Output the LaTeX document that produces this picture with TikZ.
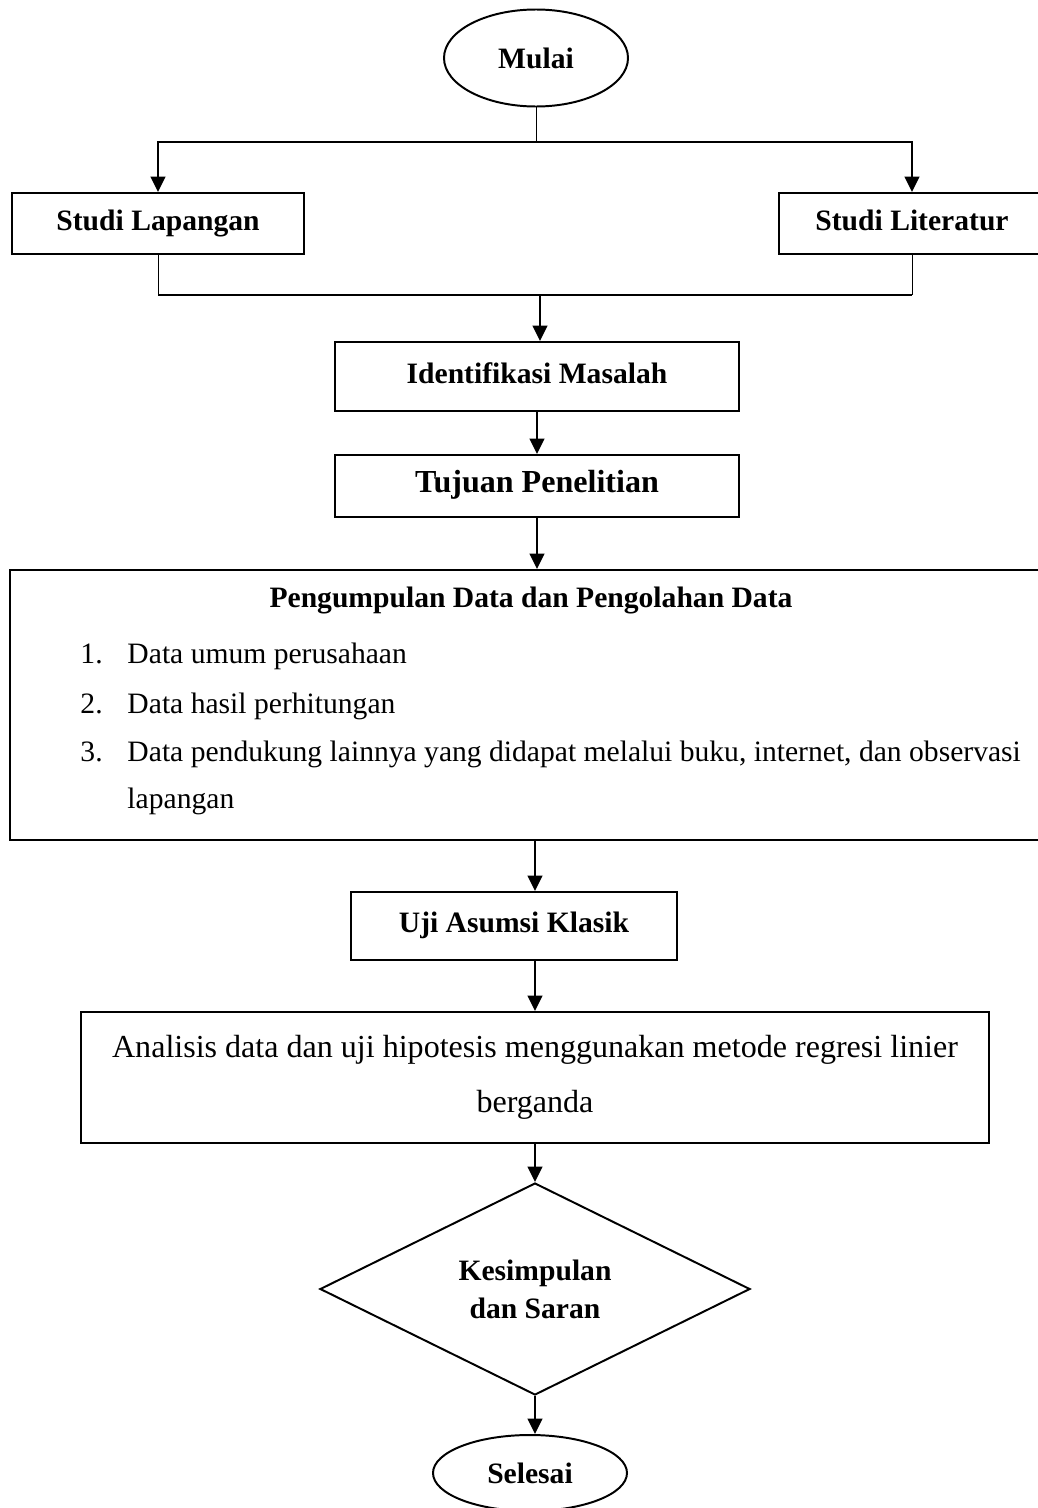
\documentclass[tikz,border=0pt]{standalone}
\usepackage{fontspec}
\setmainfont{Liberation Serif}
\usetikzlibrary{shapes.geometric, arrows.meta}
\newcommand{\pxu}{0.01425cm}

\begin{document}
\begin{tikzpicture}[x=\pxu, y=-\pxu,
    font=\fontsize{12}{14}\selectfont,
    tebal/.style={font=\fontsize{12}{14}\selectfont\bfseries},
    kotak/.style={draw, line width=0.8pt, inner sep=0pt},
    satu/.style={text height=1.6ex, text depth=0.4ex},
    oval/.style={draw, ellipse, line width=0.8pt, inner sep=0pt, tebal},
    arr/.style={line width=0.8pt, -{Triangle[length=2.2mm, width=2.1mm]}},
    garis/.style={line width=0.8pt},
    tipis/.style={line width=0.4pt}]
    \useasboundingbox (0,0) rectangle (1037,1508);

    % mulai dan studi
    \node[oval, minimum width=184*\pxu, minimum height=97*\pxu] (mulai) at (536,58) {Mulai};
    \node[kotak, tebal, satu, minimum width=292*\pxu, minimum height=61*\pxu] (lap) at (158,223.5) {Studi Lapangan};
    \node[kotak, tebal, satu, minimum width=266*\pxu, minimum height=61*\pxu] (lit) at (912,223.5) {Studi Literatur};
    \coordinate (pisah) at (536,142);
    \coordinate (gabung) at (540,295);
    \draw[tipis] (mulai) -- (pisah);
    \draw[arr] (pisah) -| (lap);
    \draw[arr] (pisah) -| (lit);
    \draw[tipis] (lap) -- (lap |- gabung);
    \draw[tipis] (lit) -- (lit |- gabung);
    \draw[garis] (lap |- gabung) -- (lit |- gabung);

    % masalah dan tujuan
    \node[kotak, tebal, satu, minimum width=404*\pxu, minimum height=69*\pxu] (idm) at (537,376.5) {Identifikasi Masalah};
    \node[kotak, satu, font=\fontsize{13}{15}\selectfont\bfseries, minimum width=404*\pxu, minimum height=62*\pxu] (tuj) at (537,486) {Tujuan Penelitian};
    \draw[arr] (gabung) -- (gabung |- idm.north);
    \draw[arr] (idm) -- (tuj);

    % pengumpulan data
    \node[kotak, minimum width=1035*\pxu, minimum height=270*\pxu] (dat) at (527.5,705) {};
    \node[tebal, satu] (datjudul) at (531,601) {Pengumpulan Data dan Pengolahan Data};
    \foreach \n/\y/\t in {1/663/{Data umum perusahaan}, 2/713/{Data hasil perhitungan},
        3/761/{Data pendukung lainnya yang didapat melalui buku, internet, dan observasi}} {
        \node[anchor=base west, inner sep=0pt] (no\n) at (80,\y) {\n.};
        \node[anchor=base west, inner sep=0pt] (isi\n) at (127,\y) {\t};
    }
    \node[anchor=base west, inner sep=0pt] (isi3b) at (127,808) {lapangan};
    \draw[arr] (tuj) -- (tuj |- dat.north);

    % uji dan analisis
    \node[kotak, tebal, satu, minimum width=326*\pxu, minimum height=68*\pxu] (uji) at (514,926) {Uji Asumsi Klasik};
    \node[kotak, align=center, font=\fontsize{13}{22.3}\selectfont, minimum width=908*\pxu, minimum height=131*\pxu] (ana) at (535,1077.5)
        {Analisis data dan uji hipotesis menggunakan metode regresi linier\\berganda};
    \draw[arr] (ana |- dat.south) -- (ana |- uji.north);
    \draw[arr] (ana |- uji.south) -- (ana);

    % kesimpulan dan selesai
    \node[draw, diamond, line width=0.8pt, inner sep=0pt, align=center, font=\fontsize{12}{15.5}\selectfont\bfseries,
        minimum width=430*\pxu, minimum height=198*\pxu] (kes) at (535,1289) {Kesimpulan\\dan Saran};
    \node[oval, minimum width=194*\pxu, minimum height=76*\pxu] (selesai) at (530,1473) {Selesai};
    \draw[arr] (ana) -- (kes);
    \draw[arr] (kes) -- (kes |- selesai.north);
\end{tikzpicture}
\end{document}
